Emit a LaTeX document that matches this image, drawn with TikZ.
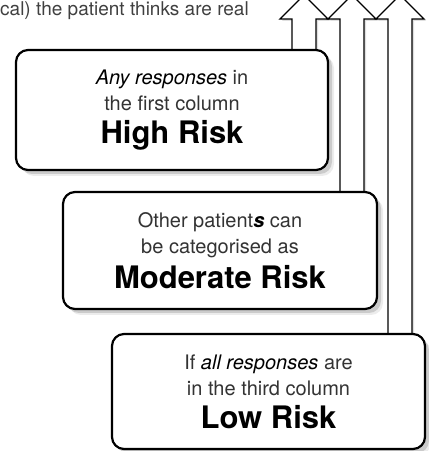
\documentclass[tikz,border=0pt]{standalone}
\usepackage{fontspec}
\setmainfont{TeX Gyre Heros}
\usetikzlibrary{shadows,backgrounds,calc}

\tikzset{
  riskbox/.style={draw, line width=2.2pt, rounded corners=12pt, fill=white, align=center,
    inner sep=0pt, text=black!80, font=\fontsize{20}{26}\selectfont,
    drop shadow={shadow xshift=4pt, shadow yshift=-4pt, opacity=.3},
    drop shadow={shadow xshift=6pt, shadow yshift=-6pt, opacity=.15}},
  riskarrow/.style={draw, line width=1.3pt, fill=white, line join=miter,
    drop shadow={shadow xshift=2pt, shadow yshift=-2pt, opacity=.25}}
}
\newcommand{\risklevel}[1]{{\fontsize{31}{31}\selectfont\bfseries\color{black}#1}}
\newcommand{\keyword}[1]{{\color{black}\itshape #1}}

\begin{document}
\begin{tikzpicture}[x=1pt, y=1pt, line join=round]
  \useasboundingbox (0,0) rectangle (429,451);
  \node[anchor=base west, inner sep=0pt, text=black!75, font=\fontsize{19}{19}\selectfont] (note) at (0,435) {cal) the patient thinks are real};
  % the three levels
  \node[riskbox, minimum width=312, minimum height=120] (hi) at (172,341)
    {\keyword{Any responses} in\\the first column\\[7pt]\risklevel{High Risk}};
  \node[riskbox, minimum width=314, minimum height=117] (mod) at (220,200.5)
    {Other patient{\color{black}\bfseries\itshape s} can\\be categorised as\\[7pt]\risklevel{Moderate Risk}};
  \node[riskbox, minimum width=313, minimum height=115] (low) at (268.5,59.5)
    {If \keyword{all responses} are\\in the third column\\[7pt]\risklevel{Low Risk}};
  % arrows up from each box
  \begin{scope}[on background layer]
    \foreach \c/\b in {304/hi, 352/mod, 400/low}
      \draw[riskarrow] let \p1=(\b.north) in
        (\c-12,\y1-6) -- (\c-12,432) -- (\c-24,432) -- (\c,456) -- (\c+24,432)
        -- (\c+12,432) -- (\c+12,\y1-6) -- cycle;
  \end{scope}
\end{tikzpicture}
\end{document}
